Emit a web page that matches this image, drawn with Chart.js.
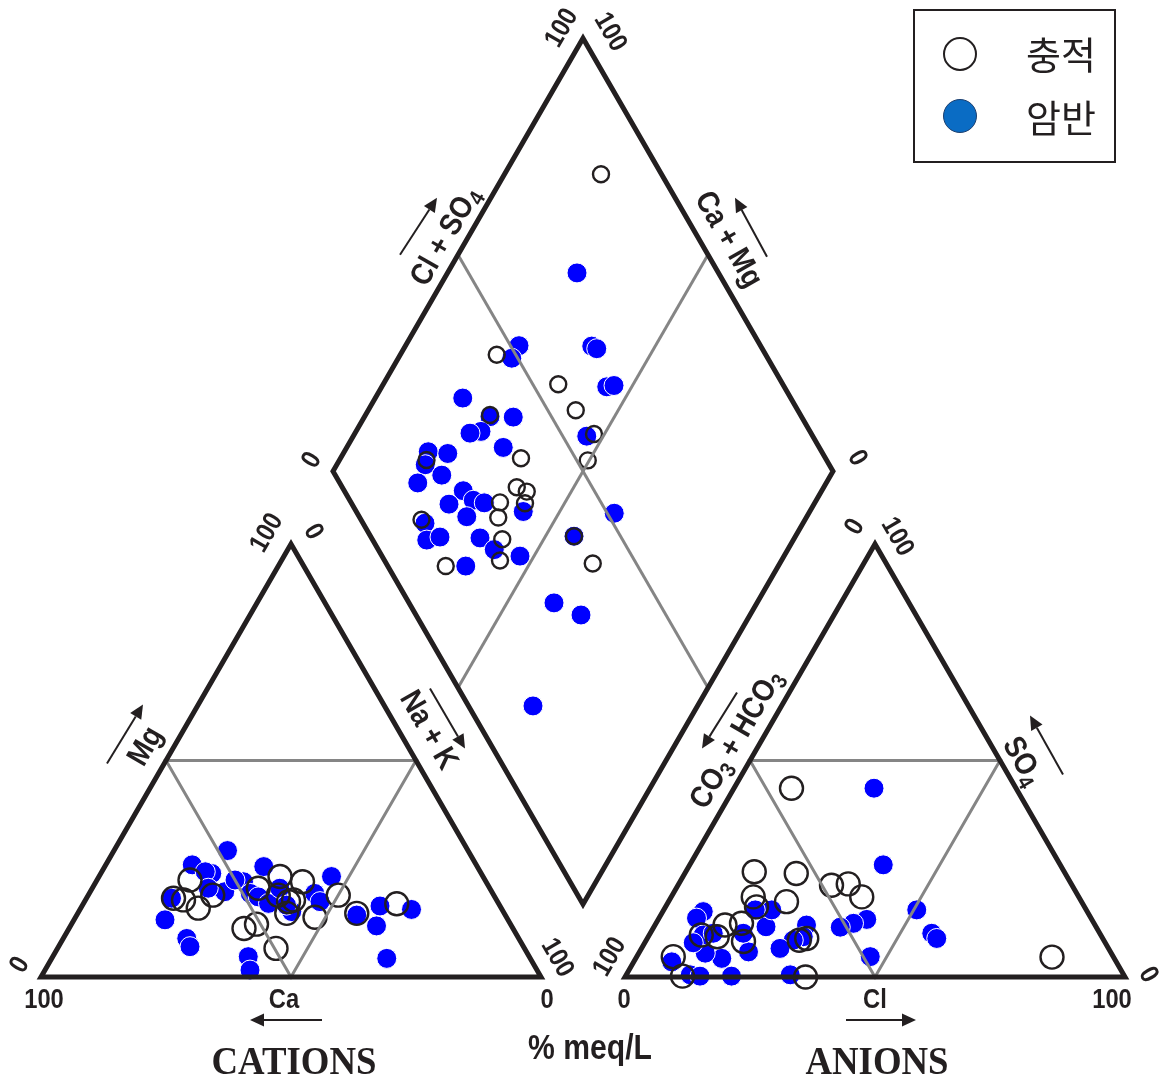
<!DOCTYPE html>
<html>
<head>
<meta charset="utf-8">
<script src="https://cdn.jsdelivr.net/npm/chart.js@4.4.1/dist/chart.umd.min.js"></script>
<style>
  html, body { margin: 0; padding: 0; background: #fff; }
  canvas { display: block; }
</style>
</head>
<body>
<canvas id="piper" width="1161" height="1079" style="width:1161px;height:1079px"></canvas>
<script>
// ============================== DATA (% meq/L) ==============================
const groups = ['충적', '암반'];

// cation triangle : Ca %, Mg %  (Na + K = rest)
const alluvCa = [59.0, 64.4, 62.6, 60.6, 56.2, 46.3, 40.6, 36.7, 43.1, 41.8, 43.5, 40.6, 38.3, 31.1, 29.5, 20.4, 53.8, 50.8, 49.7];
const alluvMg = [22.4, 18.2, 17.8, 15.9, 18.9, 20.5, 23.2, 22.0, 18.9, 17.4, 14.7, 17.8, 13.8, 18.9, 14.7, 16.9, 11.2, 12.2, 6.6];
const rockCa = [48.1, 56.8, 53.9, 55.0, 42.7, 48.5, 53.4, 56.3, 64.8, 68.6, 66.4, 66.7, 56.2, 57.4, 48.5, 47.3, 46.0, 42.0, 42.3, 42.6, 35.6, 35.5, 30.3, 29.7, 24.0, 27.0, 18.1, 28.7, 50.0];
const rockMg = [29.2, 25.9, 23.9, 24.3, 25.5, 22.0, 19.7, 20.5, 18.2, 13.2, 8.9, 7.0, 4.7, 1.6, 19.3, 18.5, 17.0, 20.5, 15.1, 16.6, 19.3, 17.4, 23.2, 14.3, 16.4, 11.8, 15.6, 4.3, 22.4];

// anion triangle : Cl %, SO4 %  (CO3 + HCO3 = rest)
const alluvCl = [11.5, 13.7, 22.3, 16.4, 23.6, 30.7, 33.9, 38.1, 18.2, 17.1, 14.0, 13.8, 10.4, 19.6, 30.6, 31.9, 7.3, 11.4, 36.1, 83.1];
const alluvSO4 = [43.6, 24.3, 23.9, 18.5, 17.4, 21.2, 21.5, 18.5, 16.2, 12.4, 12.0, 9.3, 9.7, 8.2, 8.5, 8.9, 4.7, 0.2, 0.0, 4.6];
const rockCl = [28.0, 38.7, 50.6, 56.3, 57.9, 46.7, 41.7, 39.5, 37.3, 30.3, 31.0, 29.4, 27.7, 22.4, 21.6, 18.3, 21.8, 17.2, 13.3, 8.1, 7.5, 10.8, 9.7, 21.2, 32.8, 7.6, 12.8, 14.9, 18.6, 12.6];
const rockSO4 = [43.6, 25.9, 15.5, 10.1, 8.9, 4.7, 13.3, 12.4, 11.5, 12.0, 9.3, 8.5, 6.6, 11.6, 15.5, 15.5, 5.8, 4.3, 5.5, 15.1, 13.6, 9.7, 7.9, 0.2, 0.5, 3.5, 0.5, 0.2, 10.1, 10.1];

// diamond : Ca + Mg %, Cl + SO4 %
const alluvCaMg = [80.7, 80.7, 65.0, 58.5, 52.1, 50.3, 75.1, 63.9, 61.4, 58.9, 57.9, 63.0, 61.6, 58.3, 56.3, 66.5, 76.7, 82.6, 37.4, 44.3];
const alluvClSO4 = [87.9, 46.2, 55.1, 55.6, 56.5, 52.2, 37.9, 39.1, 34.9, 36.4, 34.7, 29.8, 27.7, 26.0, 23.1, 11.6, 12.1, 20.0, 41.3, 40.7];
const rockCaMg = [77.3, 77.3, 62.7, 61.4, 55.0, 53.7, 82.5, 74.9, 70.2, 75.0, 77.0, 68.7, 53.3, 83.2, 79.1, 82.3, 77.8, 81.7, 71.7, 73.0, 68.6, 66.1, 68.0, 57.3, 38.9, 75.6, 73.3, 71.0, 62.9, 58.7, 52.8, 62.5, 44.3, 74.1, 40.6, 33.8, 32.9];
const rockClSO4 = [51.7, 48.8, 66.2, 66.9, 64.5, 66.1, 34.4, 37.7, 42.3, 34.2, 31.8, 36.8, 54.8, 21.3, 25.0, 19.2, 21.3, 15.6, 23.8, 19.4, 24.7, 26.6, 21.5, 33.4, 51.4, 12.4, 10.8, 13.8, 21.7, 23.2, 27.6, 15.6, 40.7, 71.7, 29.0, 33.0, 12.9];

// ============================== PIPER GEOMETRY ==============================
const H = Math.sqrt(3) / 2;
const GAP = 16.8; // space between the two triangles (triangle side = 100)

function cationXY(ca, mg) {
    const na = 100 - ca - mg;
    return { x: na + mg / 2, y: mg * H };
}
function anionXY(cl, so4) {
    return { x: 100 + GAP + cl + so4 / 2, y: so4 * H };
}
function diamondXY(caMg, clSo4) {
    return { x: 100 + GAP / 2 + (clSo4 - caMg) / 2, y: GAP * H + (clSo4 + caMg) * H };
}

const INK = '#231f20';
const GREY = '#858585';
const BLUE = '#0000ff';

function pts(fn, a, b) {
    return a.map((v, i) => fn(v, b[i]));
}

function outline(points, color, width, order) {
    return {
        data: points, showLine: true, pointRadius: 0, borderColor: color, borderWidth: width,
        borderJoinStyle: 'miter', borderCapStyle: 'butt', fill: false, order: order
    };
}

function openSet(points, r) {
    return {
        label: groups[0], data: points, pointRadius: r, pointBorderWidth: 2.4,
        pointBackgroundColor: 'rgba(0,0,0,0)', pointBorderColor: INK, order: 3
    };
}
function blueSet(points) {
    return {
        label: groups[1], data: points, pointRadius: 10, pointBorderWidth: 1,
        pointBackgroundColor: BLUE, pointBorderColor: '#ffffff', order: 4
    };
}

const datasets = [
    // black frames (start at mid edge so joins stay sharp)
    outline([cationXY(50, 0), cationXY(0, 0), cationXY(0, 100), cationXY(100, 0), cationXY(50, 0)], INK, 5, 0),
    outline([anionXY(50, 0), anionXY(100, 0), anionXY(0, 100), anionXY(0, 0), anionXY(50, 0)], INK, 5, 0),
    outline([diamondXY(0, 50), diamondXY(0, 100), diamondXY(100, 100), diamondXY(100, 0), diamondXY(0, 0), diamondXY(0, 50)], INK, 5, 0),
    // grey 50% lines
    outline([cationXY(25, 50), cationXY(0, 50), cationXY(50, 0), cationXY(50, 50), cationXY(25, 50)], GREY, 3, 1),
    outline([anionXY(25, 50), anionXY(50, 50), anionXY(50, 0), anionXY(0, 50), anionXY(25, 50)], GREY, 3, 1),
    outline([diamondXY(100, 50), diamondXY(0, 50)], GREY, 3, 1),
    outline([diamondXY(50, 100), diamondXY(50, 0)], GREY, 3, 1),
    // samples
    openSet(pts(cationXY, alluvCa, alluvMg), 11.5),
    openSet(pts(anionXY, alluvCl, alluvSO4), 11.5),
    openSet(pts(diamondXY, alluvCaMg, alluvClSO4), 8),
    blueSet(pts(cationXY, rockCa, rockMg)),
    blueSet(pts(anionXY, rockCl, rockSO4)),
    blueSet(pts(diamondXY, rockCaMg, rockClSO4))
];

// ============================== LABELS ==============================
const SANS = '"Liberation Sans", Arial, sans-serif';

function label(ctx, parts, x, y, rot, size, sx) {
    ctx.save();
    ctx.translate(x, y);
    ctx.rotate(rot * Math.PI / 180);
    ctx.scale(sx || 1, 1);
    ctx.fillStyle = INK;
    ctx.textBaseline = 'middle';
    ctx.textAlign = 'left';
    const subSize = size * 0.72;
    let w = 0;
    parts.forEach(p => {
        ctx.font = 'bold ' + (p[1] ? subSize : size) + 'px ' + SANS;
        p.w = ctx.measureText(p[0]).width;
        w += p.w;
    });
    let cx = -w / 2;
    parts.forEach(p => {
        ctx.font = 'bold ' + (p[1] ? subSize : size) + 'px ' + SANS;
        ctx.fillText(p[0], cx, p[1] ? size * 0.28 : 0);
        cx += p.w;
    });
    ctx.restore();
}

function arrow(ctx, x1, y1, x2, y2) {
    const a = Math.atan2(y2 - y1, x2 - x1);
    const hl = 14, hw = 6.5;
    ctx.save();
    ctx.strokeStyle = INK;
    ctx.fillStyle = INK;
    ctx.lineWidth = 2;
    ctx.beginPath();
    ctx.moveTo(x1, y1);
    ctx.lineTo(x2 - hl * Math.cos(a), y2 - hl * Math.sin(a));
    ctx.stroke();
    ctx.beginPath();
    ctx.moveTo(x2, y2);
    ctx.lineTo(x2 - hl * Math.cos(a) + hw * Math.sin(a), y2 - hl * Math.sin(a) - hw * Math.cos(a));
    ctx.lineTo(x2 - hl * Math.cos(a) - hw * Math.sin(a), y2 - hl * Math.sin(a) + hw * Math.cos(a));
    ctx.closePath();
    ctx.fill();
    ctx.restore();
}

const piperLabels = {
    id: 'piperLabels',
    afterDraw(chart) {
        const ctx = chart.ctx;
        const xs = chart.scales.x, ys = chart.scales.y;
        const P = q => ({ x: xs.getPixelForValue(q.x), y: ys.getPixelForValue(q.y) });
        const t = (s, p, dx, dy, rot) => label(ctx, [[s, 0]], p.x + dx, p.y + dy, rot, 27, 0.88);
        const side = (parts, p, dx, dy, rot) => label(ctx, parts, p.x + dx, p.y + dy, rot, 31, 0.88);

        // cation triangle
        const cBL = P(cationXY(100, 0)), cBR = P(cationXY(0, 0)), cT = P(cationXY(0, 100));
        const cMid = P(cationXY(50, 0)), cL = P(cationXY(50, 50)), cR = P(cationXY(0, 50));
        t('0', cBL, -21, -12, -60);
        t('100', cBL, 3, 24, 0);
        t('Ca', cMid, -7, 24, 0);
        arrow(ctx, cMid.x + 31, cMid.y + 43, cMid.x - 41, cMid.y + 43);
        t('0', cBR, 6, 24, 0);
        t('100', cBR, 16, -19, 60);
        t('100', cT, -24, -11, -60);
        t('0', cT, 22, -12, 60);
        side([['Mg', 0]], cL, -20, -14, -60);
        arrow(ctx, cL.x - 59, cL.y + 3, cL.x - 23, cL.y - 56);
        side([['Na + K', 0]], cR, 12, -30, 60);
        arrow(ctx, cR.x + 14, cR.y - 72, cR.x + 49, cR.y - 12);

        // anion triangle
        const aBL = P(anionXY(0, 0)), aBR = P(anionXY(100, 0)), aT = P(anionXY(0, 100));
        const aMid = P(anionXY(50, 0)), aL = P(anionXY(0, 50)), aR = P(anionXY(50, 50));
        t('0', aT, -20, -17, -60);
        t('100', aT, 22, -7, 60);
        side([['CO', 0], ['3', 1], [' + HCO', 0], ['3', 1]], aL, -13, -21, -60);
        arrow(ctx, aL.x - 13, aL.y - 68, aL.x - 48, aL.y - 12);
        side([['SO', 0], ['4', 1]], aR, 22, 1, 60);
        arrow(ctx, aR.x + 63, aR.y + 14, aR.x + 30, aR.y - 45);
        t('100', aBL, -15, -20, -60);
        t('0', aBL, -1, 24, 0);
        t('Cl', aMid, 0, 24, 0);
        arrow(ctx, aMid.x - 29, aMid.y + 43, aMid.x + 41, aMid.y + 43);
        t('100', aBR, -13, 24, 0);
        t('0', aBR, 23, -2, 60);

        // diamond
        const dT = P(diamondXY(100, 100)), dL = P(diamondXY(100, 0)), dR = P(diamondXY(0, 100));
        const dUL = P(diamondXY(100, 50)), dUR = P(diamondXY(50, 100));
        t('100', dT, -21, -10, -60);
        t('100', dT, 27, -6, 60);
        side([['Cl + SO', 0], ['4', 1]], dUL, -12, -18, -60);
        arrow(ctx, dUL.x - 58, dUL.y, dUL.x - 21, dUL.y - 57);
        side([['Ca + Mg', 0]], dUR, 20, -15, 60);
        arrow(ctx, dUR.x + 59, dUR.y + 2, dUR.x + 27, dUR.y - 57);
        t('0', dL, -21, -11, -60);
        t('0', dR, 24, -13, 60);

        // titles
        ctx.save();
        ctx.fillStyle = INK;
        ctx.textAlign = 'center';
        ctx.textBaseline = 'alphabetic';
        ctx.font = 'bold 40px "Liberation Serif", "Times New Roman", serif';
        [['CATIONS', cMid.x + 3], ['ANIONS', aMid.x + 2]].forEach(([s, x]) => {
            ctx.save();
            ctx.translate(x, cMid.y + 97);
            ctx.scale(0.92, 1);
            ctx.fillText(s, 0, 0);
            ctx.restore();
        });
        ctx.restore();
        label(ctx, [['% meq/L', 0]], (cBR.x + aBL.x) / 2 + 7, cMid.y + 72, 0, 35, 0.86);

        // legend
        ctx.save();
        ctx.strokeStyle = INK;
        ctx.lineWidth = 2;
        ctx.strokeRect(914, 10, 201, 152);
        ctx.lineWidth = 2;
        ctx.beginPath();
        ctx.arc(960, 54, 16, 0, Math.PI * 2);
        ctx.stroke();
        ctx.beginPath();
        ctx.arc(960, 116, 16.5, 0, Math.PI * 2);
        ctx.fillStyle = '#0a6cc4';
        ctx.fill();
        ctx.strokeStyle = '#1d3f6e';
        ctx.lineWidth = 1;
        ctx.stroke();
        ctx.fillStyle = INK;
        ctx.font = '38px "Noto Sans CJK KR", sans-serif';
        ctx.textBaseline = 'middle';
        ctx.textAlign = 'left';
        ctx.fillText(groups[0], 1026, 55);
        ctx.fillText(groups[1], 1026, 118);
        ctx.restore();
    }
};

// ============================== CHART ==============================
// 5 px per % unit; origin (Ca = 100 corner) at pixel (41, 977)
new Chart(document.getElementById('piper').getContext('2d'), {
    type: 'scatter',
    data: { datasets: datasets },
    options: {
        responsive: false,
        devicePixelRatio: 1,
        animation: false,
        layout: { padding: 0, autoPadding: false },
        scales: {
            x: { type: 'linear', min: -8.2, max: 224.0, display: false },
            y: { type: 'linear', min: -20.4, max: 195.4, display: false }
        },
        plugins: { legend: { display: false }, tooltip: { enabled: false } },
        events: []
    },
    plugins: [piperLabels]
});
</script>
</body>
</html>
